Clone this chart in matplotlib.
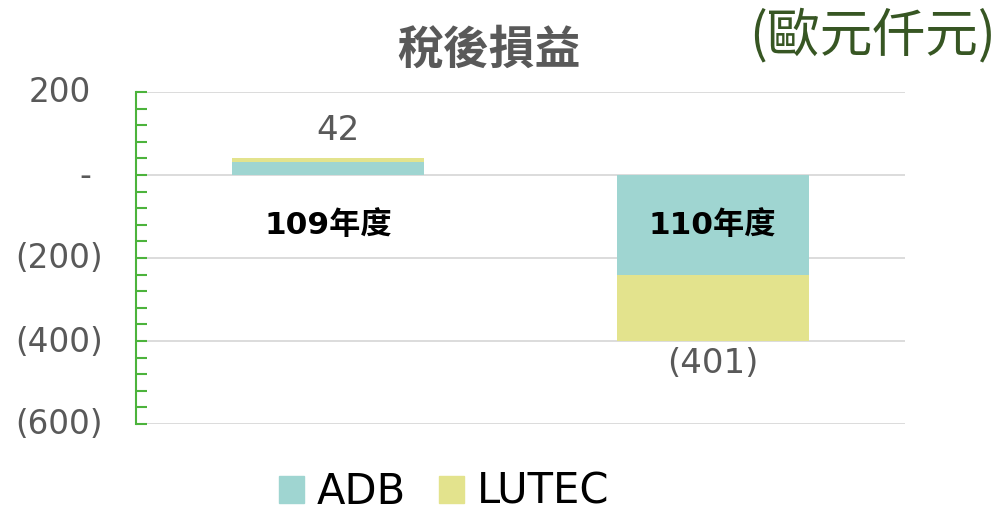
import matplotlib
matplotlib.use("Agg")
import matplotlib.pyplot as plt
import matplotlib.transforms as mtransforms
from matplotlib.ticker import MultipleLocator, FixedLocator
from matplotlib.patches import Patch

plt.rcParams['font.family'] = ['DejaVu Sans', 'Noto Sans CJK TC']

categories = ["109年度", "110年度"]
adb = [32, -241]
lutec = [10, -160]
totals = [42, -401]
total_labels = ["42", "(401)"]
yticks = [200, 0, -200, -400, -600]
ytick_labels = ["200", "-", "(200)", "(400)", "(600)"]

teal = "#9FD5D1"
yellow = "#E3E38D"
gray = "#595959"
green = "#4CB33C"

W, H = 1002, 512
fig = plt.figure(figsize=(W / 100, H / 100), dpi=100)
ax = fig.add_axes([136 / W, 1 - 424 / H, (905 - 136) / W, (424 - 92) / H])

x = list(range(len(categories)))
ax.bar(x, adb, width=0.5, color=teal, zorder=3)
ax.bar(x, lutec, width=0.5, bottom=adb, color=yellow, zorder=3)

ax.set_xlim(-0.5, 1.5)
ax.set_ylim(-600, 200)
ax.yaxis.set_major_locator(FixedLocator(yticks))
ax.set_yticklabels([""] * len(yticks))
ax.yaxis.set_minor_locator(MultipleLocator(40))
ax.tick_params(axis='y', which='both', direction='in', color=green, width=1.5, length=8)
ax.set_xticks([])
ax.grid(axis='y', color="#d9d9d9", linewidth=1.3, zorder=0)
for s in ['top', 'right', 'bottom']:
    ax.spines[s].set_visible(False)
ax.spines['left'].set_color(green)
ax.spines['left'].set_linewidth(1.5)

# tick labels (accounting style: positives leave room for the closing paren)
ytrans = mtransforms.blended_transform_factory(ax.transAxes, ax.transData)
for v, lab in zip(yticks, ytick_labels):
    off = -33 if lab.endswith(")") else -45
    t = mtransforms.offset_copy(ytrans, fig=fig, x=off, y=-1, units='dots')
    ax.text(0, v, lab, transform=t, ha='right', va='center', fontsize=23.5, color=gray)

for xi, tval, lab in zip(x, totals, total_labels):
    if tval >= 0:
        ax.text(xi + 0.025, tval + 26, lab, ha='center', va='bottom', fontsize=24.5, color=gray)
    else:
        ax.text(xi, tval - 14, lab, ha='center', va='top', fontsize=24.5, color=gray)

for xi, c in zip(x, categories):
    ax.text(xi, -120, c, ha='center', va='center', fontsize=22.5, fontweight='bold',
            color='black', family=['DejaVu Sans', 'Noto Sans CJK TC'])

fig.text(489 / W, 1 - 51 / H, "稅後損益", ha='center', va='center', fontsize=33,
         fontweight='bold', color=gray, family=['Noto Sans CJK TC'])
fig.text(996 / W, 1 - 36 / H, "(歐元仟元)", ha='right', va='center', fontsize=38,
         color="#375623", family=['Noto Sans CJK TC'])

handles = [Patch(color=teal, label="ADB"), Patch(color=yellow, label="LUTEC")]
fig.legend(handles=handles, loc='center', bbox_to_anchor=(444 / W, 1 - 492 / H), ncol=2,
           frameon=False, fontsize=30, handlelength=0.6, handleheight=0.6,
           handletextpad=0.3, columnspacing=0.8, borderpad=0)

fig.savefig("out.png", dpi=100)
